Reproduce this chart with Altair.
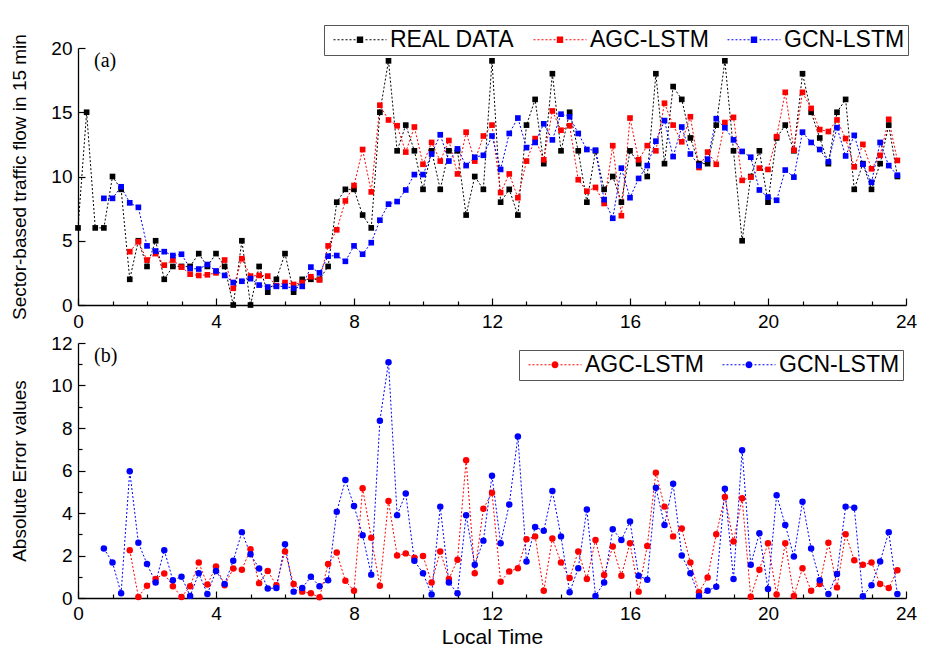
import altair as alt
import pandas as pd

STEP = 0.25

SERIES_A = ["REAL DATA", "AGC-LSTM", "GCN-LSTM"]
COLORS_A = ["#000000", "#ff0000", "#0000ff"]
SERIES_B = ["AGC-LSTM", "GCN-LSTM"]
COLORS_B = ["#ff0000", "#0000ff"]

# (a) traffic flow, one value every 15 minutes
REAL_START = 0.0
REAL = [6, 15, 6, 6, 10, 9, 2, 5, 3, 5, 2, 3, 3, 3, 4, 3,
        4, 3, 0, 5, 0, 3, 1, 2, 4, 1, 2, 2, 2, 3, 8, 9,
        9, 7, 6, 15, 19, 12, 14, 12, 9, 12, 9, 12, 12, 7, 10, 9,
        19, 8, 9, 7, 14, 16, 11, 18, 12, 15, 12, 8, 12, 9, 10, 8,
        12, 11, 10, 18, 11, 17, 16, 13, 11, 11, 14, 19, 12, 5, 10, 12,
        8, 13, 14, 12, 18, 15, 13, 11, 15, 16, 9, 11, 9, 11, 14, 10]

AGC_START = 1.5
AGC = [4.15, 4.93, 3.5, 4.0, 3.1, 3.5, 2.95, 2.4, 2.3, 2.35,
       2.5, 3.5, 1.3, 3.6, 2.25, 2.3, 2.25, 1.5, 1.75, 1.6, 1.75, 2.2, 1.95, 4.6, 5.85, 8.1,
       9.3, 12.1, 8.8, 15.55, 14.4, 13.95, 11.9, 13.85, 10.95, 12.65, 11.2, 12.8, 10.2, 13.45, 11.2, 13.15,
       14.0, 8.75, 10.2, 8.35, 11.2, 12.95, 11.3, 15.1, 13.6, 13.95, 9.75, 8.85, 9.15, 7.9, 12.4, 6.95,
       14.55, 11.3, 12.4, 12.0, 15.7, 14.0, 12.7, 14.65, 10.7, 11.9, 10.95, 14.2, 14.6, 9.7, 9.95, 10.65,
       10.55, 13.1, 16.55, 12.05, 16.55, 15.3, 13.65, 13.5, 14.4, 12.95, 10.75, 12.5, 10.6, 11.65, 14.45, 11.25]

GCN_START = 0.75
GCN = [8.3, 8.3, 9.2, 7.95, 7.6, 4.6, 4.2, 4.15, 3.85, 3.95, 2.85, 2.8, 3.15,
       2.65, 2.3, 1.75, 1.85, 2.05, 1.55, 1.4, 1.45, 1.45, 1.3, 1.45, 2.95, 2.5, 3.8, 3.85, 3.4,
       4.6, 3.95, 4.85, 6.6, 7.85, 8.05, 8.95, 10.15, 10.15, 11.75, 13.25, 11.2, 12.15, 10.85, 11.5, 11.65,
       13.15, 10.55, 13.35, 14.55, 12.25, 12.65, 14.1, 12.85, 14.85, 14.65, 13.35, 12.1, 12.05, 8.2, 6.75, 10.65,
       8.35, 9.85, 10.85, 12.75, 14.35, 11.55, 13.85, 11.75, 10.85, 11.35, 14.5, 13.8, 12.85, 11.95, 11.5, 8.95,
       8.4, 8.15, 10.5, 9.95, 13.45, 12.65, 12.1, 11.15, 13.8, 11.6, 13.2, 10.95, 9.55, 12.65, 10.85, 10.1]

# (b) absolute error values
AGC_ERR_START = 1.5
AGC_ERR = [2.25, 0.05, 0.58, 0.9, 1.15, 0.55, 0.05, 0.55, 1.67, 0.63,
           1.48, 0.6, 1.39, 1.33, 2.3, 0.7, 1.27, 0.6, 2.19, 0.66, 0.3, 0.22, 0.03, 1.6, 2.14, 0.81,
           0.34, 5.17, 2.84, 0.58, 4.56, 2.0, 2.1, 1.9, 1.98, 0.73, 2.19, 0.89, 1.8, 6.48, 1.17, 4.2,
           4.95, 0.77, 1.25, 1.4, 2.77, 2.9, 0.34, 2.8, 1.67, 0.94, 2.19, 0.89, 2.73, 1.08, 2.42, 1.05,
           2.58, 0.3, 2.45, 5.9, 4.3, 2.9, 3.27, 1.67, 0.27, 0.97, 3.0, 4.75, 2.66, 4.69, 0.06, 1.33,
           2.58, 0.16, 2.58, 0.1, 1.4, 0.34, 0.66, 2.6, 0.5, 3.0, 1.78, 1.56, 1.67, 0.66, 0.47, 1.31]

GCN_ERR_START = 0.75
GCN_ERR = [2.33, 1.67, 0.22, 5.97, 2.6, 1.6, 0.73, 2.25, 0.84, 1.0, 0.1, 1.16, 0.19,
           1.27, 0.66, 1.75, 3.1, 2.06, 1.39, 0.45, 0.47, 2.53, 0.3, 0.47, 1.0, 0.55, 0.84, 4.06, 5.55,
           4.33, 2.95, 1.1, 8.34, 11.1, 3.9, 4.92, 1.75, 1.17, 0.16, 4.3, 0.73, 0.22, 3.9, 1.56, 2.7,
           5.75, 2.58, 4.4, 7.6, 1.72, 3.34, 3.16, 5.03, 2.9, 0.27, 1.4, 4.17, 0.1, 0.73, 3.23, 2.73,
           3.6, 1.05, 0.86, 5.19, 3.44, 5.38, 2.0, 1.16, 0.1, 0.34, 0.53, 5.14, 0.89, 6.95, 1.56, 3.05,
           0.42, 4.84, 3.44, 1.95, 4.53, 2.33, 0.84, 0.19, 1.13, 4.3, 4.25, 0.08, 0.6, 1.72, 3.1, 0.19]

X_TICKS = list(range(25))
Y_TICKS_A = [0, 5, 10, 15, 20]
Y_TICKS_B = list(range(13))


def frame(parts):
    out = []
    for name, start, vals in parts:
        out.append(pd.DataFrame({
            "time": [start + i * STEP for i in range(len(vals))],
            "value": vals,
            "series": name,
        }))
    return pd.concat(out, ignore_index=True)


df_a = frame([("REAL DATA", REAL_START, REAL), ("AGC-LSTM", AGC_START, AGC), ("GCN-LSTM", GCN_START, GCN)])
df_b = frame([("AGC-LSTM", AGC_ERR_START, AGC_ERR), ("GCN-LSTM", GCN_ERR_START, GCN_ERR)])

FONT = "Liberation Sans"
U = 5.0  # px per legend-symbol unit


def rect(x0, x1, y0, y1):
    return f"M{x0:.3f},{y0:.3f}H{x1:.3f}V{y1:.3f}H{x0:.3f}Z"


def legend_symbol(marker):
    length = 53 / U
    x0 = -1.0
    x1 = x0 + length
    cx = (x0 + x1) / 2
    half = 3.2 / U
    th = 0.5 / U
    dash = 2 / U
    parts = []
    x = x0
    while x < x1 - 1e-9:
        xe = min(x + dash, x1)
        if xe <= cx - half - 0.15 or x >= cx + half + 0.15:
            parts.append(rect(x, xe, -th, th))
        x += 2 * dash
    if marker == "square":
        parts.append(rect(cx - half, cx + half, -half, half))
    else:
        r = half * 1.1
        parts.append(f"M{cx - r:.3f},0A{r:.3f},{r:.3f} 0 1,0 {cx + r:.3f},0A{r:.3f},{r:.3f} 0 1,0 {cx - r:.3f},0Z")
    return "".join(parts)


def make_legend(marker, lx, ly, cols):
    return alt.Legend(
        title=None, orient="none", legendX=lx, legendY=ly, direction="horizontal", columns=cols,
        symbolType=legend_symbol(marker), symbolSize=(2 * U) ** 2, symbolStrokeWidth=0,
        symbolOpacity=1, labelFont=FONT, labelFontSize=23, labelColor="black",
        labelOffset=40, columnPadding=12, padding=3, strokeColor="#555555", fillColor="white",
        labelLimit=300,
    )


def x_axis(title, pad):
    kw = dict(
        values=X_TICKS,
        labelExpr="datum.value % 4 === 0 ? datum.label : ''",
        tickSize={"condition": {"test": "datum.value % 4 === 0", "value": -7}, "value": -4},
        labelPadding=pad, labelFlush=False, labelOverlap=False,
    )
    if title:
        kw.update(title=title, titleFontSize=21, titlePadding=0)
    else:
        kw["title"] = None
    return alt.Axis(**kw)


def y_axis_a():
    return alt.Axis(
        values=Y_TICKS_A, title="Sector-based traffic flow in 15 min",
        tickSize={"condition": {"test": "true", "value": -7}, "value": -7},
        labelPadding=13, labelFlush=False, labelOverlap=False, titlePadding=21,
    )


def y_axis_b():
    return alt.Axis(
        values=Y_TICKS_B, title="Absolute Error values",
        labelExpr="datum.value % 2 === 0 ? datum.label : ''",
        tickSize={"condition": {"test": "datum.value % 2 === 0", "value": -7}, "value": -4},
        labelPadding=13, labelFlush=False, labelOverlap=False, titlePadding=21,
    )


def panel(df, domain, colors, shape, size, yax, ydom, xax, legend, tag, h):
    scale = alt.Scale(domain=domain, range=colors)
    base = alt.Chart(df).encode(
        x=alt.X("time:Q", scale=alt.Scale(domain=[0, 24], nice=False, zero=False), axis=xax),
        y=alt.Y("value:Q", scale=alt.Scale(domain=ydom, nice=False, zero=False), axis=yax),
    )
    line = base.mark_line(strokeWidth=1, strokeDash=[2, 2]).encode(
        color=alt.Color("series:N", scale=scale, legend=legend)
    )
    pts = base.mark_point(filled=True, shape=shape, size=size, opacity=1).encode(
        color=alt.Color("series:N", scale=scale, legend=legend)
    )
    txt = alt.Chart(pd.DataFrame({"t": [tag]})).mark_text(
        font="Liberation Serif", fontSize=20, align="left", baseline="middle", color="black"
    ).encode(text="t:N", x=alt.value(16), y=alt.value(13))
    return alt.layer(line, pts, txt).properties(width=828, height=h)


panel_a = panel(df_a, SERIES_A, COLORS_A, "square", 32, y_axis_a(), [0, 20], x_axis(None, 14),
                make_legend("square", 246, -23, 3), "(a)", 257)
panel_b = panel(df_b, SERIES_B, COLORS_B, "circle", 42, y_axis_b(), [0, 12], x_axis("Local Time", 13),
                make_legend("circle", 441, 7, 2), "(b)", 255)

chart = (
    alt.vconcat(panel_a, panel_b, spacing=0)
    .resolve_scale(color="independent", x="independent")
    .resolve_legend(color="independent")
    .properties(padding={"left": 2, "top": 16, "right": 5, "bottom": 0})
    .configure_view(stroke=None)
    .configure_axis(
        grid=False, domainColor="black", domainWidth=1.3, tickColor="black", tickWidth=1.2,
        labelFont=FONT, labelFontSize=19, labelColor="black",
        titleFont=FONT, titleFontSize=19, titleFontWeight="normal", titleColor="black",
    )
)

chart.save("out.html", embed_options={"renderer": "svg", "actions": False})
